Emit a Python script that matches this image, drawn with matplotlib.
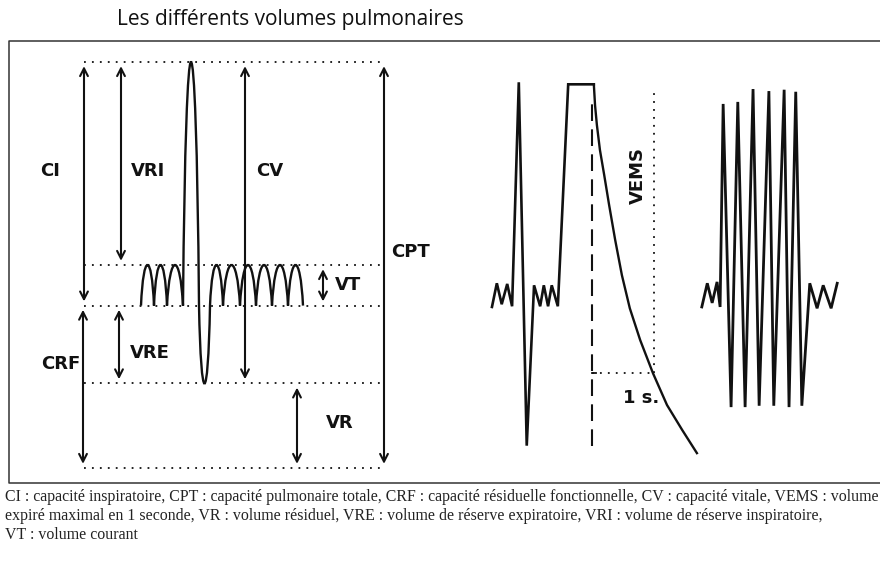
import matplotlib
matplotlib.use("Agg")
import matplotlib.pyplot as plt
from matplotlib.path import Path
from matplotlib.patches import PathPatch
from matplotlib.transforms import blended_transform_factory

# lung volume levels (litres)
TLC = 6.0      # capacité pulmonaire totale
VT_TOP = 3.0   # fin d'inspiration calme
FRC = 2.4      # capacité résiduelle fonctionnelle
RV = 1.25      # volume résiduel
ZERO = 0.0

# left spirogram: breath boundaries (s) and the volume reached in between
breath_t = [0.25, 3.5, 6.75, 10.75, 14.75, 17.5, 20.75, 25.0, 29.0, 33.0, 37.0, 40.75]
breath_v = [VT_TOP, VT_TOP, VT_TOP, TLC, RV, VT_TOP, VT_TOP, VT_TOP, VT_TOP, VT_TOP, VT_TOP]

# forced expiration (VEMS), t = 0 at start of expiration
fev_t = [-1.64, -1.56, -1.48, -1.39, -1.31, -1.20, -1.07, -0.95, -0.85, -0.79,
         -0.72, -0.66, -0.56, -0.39, 0.03]
fev_v = [2.38, 2.73, 2.42, 2.72, 2.39, 5.70, 0.33, 2.70, 2.39, 2.70,
         2.39, 2.70, 2.39, 5.67, 5.67]
fev_curve_t = [0.03, 0.05, 0.08, 0.13, 0.20, 0.28, 0.38, 0.49, 0.62, 0.79, 1.00, 1.23, 1.48, 1.72]
fev_curve_v = [5.67, 5.36, 5.07, 4.70, 4.33, 3.89, 3.37, 2.85, 2.36, 1.89, 1.40, 0.93, 0.56, 0.22]
fev_1s = 1.0

# maximal voluntary ventilation trace
mvv_t = [1.80, 1.89, 1.97, 2.05, 2.10, 2.15, 2.28, 2.39, 2.51, 2.64, 2.74, 2.90, 2.98,
         3.15, 3.23, 3.34, 3.44, 3.57, 3.69, 3.79, 3.92, 4.02]
mvv_v = [2.38, 2.73, 2.44, 2.75, 2.38, 5.38, 0.90, 5.41, 0.90, 5.60, 0.92, 5.57, 0.92,
         5.59, 0.90, 5.56, 0.92, 2.73, 2.36, 2.70, 2.36, 2.73]

title = "Les différents volumes pulmonaires"
caption = [
    "CI : capacité inspiratoire, CPT : capacité pulmonaire totale, CRF : capacité résiduelle fonctionnelle, CV : capacité vitale, VEMS : volume",
    "expiré maximal en 1 seconde, VR : volume résiduel, VRE : volume de réserve expiratoire, VRI : volume de réserve inspiratoire,",
    "VT : volume courant",
]

INK = "#111111"
YLIM = (-1.522, 6.916)
BOLD = dict(fontsize=13, fontweight="bold", family="DejaVu Sans", color=INK)

fig = plt.figure(figsize=(8.8, 5.71), dpi=100)
canvas = fig.add_axes([0, 0, 1, 1])
canvas.set_xlim(0, 880)
canvas.set_ylim(571, 0)
canvas.axis("off")

ax_l = fig.add_axes([0, 0, 1, 1], facecolor="none")
ax_l.set_xlim(-35, 185)
ax_l.set_ylim(*YLIM)
ax_l.axis("off")

ax_r = fig.add_axes([0, 0, 1, 1], facecolor="none")
ax_r.set_xlim(-592 / 61, 288 / 61)
ax_r.set_ylim(*YLIM)
ax_r.axis("off")

# frame, title, caption
canvas.plot([880, 9, 9, 880], [41, 41, 483, 483], color="#333333", lw=1.1)
canvas.text(290, 19, title, ha="center", va="center", fontsize=15,
            family="Open Sans", color=INK)
for i, line in enumerate(caption):
    canvas.text(5, 497 + 19 * i, line, ha="left", va="center", fontsize=11.4,
                family="Liberation Serif", color="#222222")

# left panel: dotted levels, arrows, labels (x in pixels, y in litres)
blend = blended_transform_factory(canvas.transData, ax_l.transData)
dot = dict(color=INK, lw=1.3, linestyle=(0, (1, 3.4)))
for lev in [TLC, VT_TOP, FRC, RV, ZERO]:
    ax_l.plot([84, 384], [lev, lev], transform=blend, **dot)

arrows = [
    (84, FRC, TLC), (83, ZERO, FRC), (121, VT_TOP, TLC), (119, RV, FRC),
    (245, RV, TLC), (384, ZERO, TLC), (323, FRC, VT_TOP), (297, ZERO, RV),
]
for x, lo, hi in arrows:
    canvas.annotate("", xy=(x, hi), xytext=(x, lo), xycoords=blend, textcoords=blend,
                    annotation_clip=False,
                    arrowprops=dict(arrowstyle="<->,head_length=0.55,head_width=0.28",
                                    lw=1.5, color=INK, shrinkA=3, shrinkB=3))

labels = [("CI", 50, 171), ("VRI", 148, 171), ("CV", 270, 171), ("CPT", 411, 252),
          ("VT", 348, 285), ("CRF", 61, 364), ("VRE", 150, 353), ("VR", 340, 423)]
for txt, x, y in labels:
    canvas.text(x, y, txt, ha="center", va="center", **BOLD)

# left spirogram built from bezier arches between breath boundaries
verts = [(breath_t[0], FRC)]
codes = [Path.MOVETO]
for t0, t1, v in zip(breath_t[:-1], breath_t[1:], breath_v):
    h = FRC + (v - FRC) / 0.75
    w = (t1 - t0) * 0.18
    verts += [(t0 + w, h), (t1 - w, h), (t1, FRC)]
    codes += [Path.CURVE4] * 3
ax_l.add_patch(PathPatch(Path(verts, codes), fill=False, lw=1.7, color=INK))

# right panel: forced expiration and MVV
ax_r.plot(fev_t, fev_v, color=INK, lw=1.9, solid_joinstyle="miter")
ax_r.plot(fev_curve_t, fev_curve_v, color=INK, lw=1.7)
ax_r.plot([0, 0], [fev_v[6], 5.5], color=INK, lw=1.5, linestyle=(0, (8, 4)))
v1 = fev_curve_v[fev_curve_t.index(fev_1s)]
ax_r.plot([0, fev_1s], [v1, v1], **dot)
ax_r.plot([0, 0.06], [v1, v1], color=INK, lw=1.3)
ax_r.plot([fev_1s + 0.02, fev_1s + 0.02], [v1, 5.58], **dot)
ax_r.plot(mvv_t, mvv_v, color=INK, lw=2.0, solid_joinstyle="miter")

canvas.text(638, 175, "VEMS", rotation=90, ha="center", va="center", **BOLD)
canvas.text(641, 398, "1 s.", ha="center", va="center", **BOLD)

fig.savefig("out.png", dpi=100)
